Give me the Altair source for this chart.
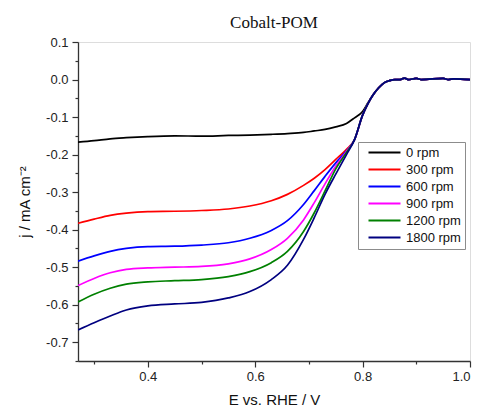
import altair as alt
import pandas as pd

# Potential (V vs RHE)
E = [0.27, 0.30, 0.33, 0.36, 0.40, 0.45, 0.50, 0.55, 0.59, 0.63, 0.66, 0.69, 0.71,
     0.73, 0.75, 0.77, 0.785, 0.80, 0.81, 0.82, 0.83, 0.84, 0.85, 0.86, 0.87,
     0.878, 0.885, 0.90, 0.91, 0.95, 0.96, 0.97, 1.0]

TAIL = [-0.040, -0.022, -0.009, -0.003, 0.0, 0.0, 0.004, 0.0, 0.003, 0.0, 0.003, 0.0, 0.002, 0.0]

J_0 = [-0.167, -0.163, -0.158, -0.155, -0.152, -0.150, -0.151, -0.149, -0.148, -0.146,
       -0.144, -0.141, -0.137, -0.133, -0.126, -0.117, -0.102, -0.085, -0.062] + TAIL
J_300 = [-0.383, -0.372, -0.362, -0.356, -0.352, -0.351, -0.349, -0.345, -0.337, -0.323,
         -0.306, -0.282, -0.263, -0.240, -0.213, -0.186, -0.160, -0.095, -0.064] + TAIL
J_600 = [-0.484, -0.470, -0.458, -0.450, -0.445, -0.444, -0.441, -0.435, -0.423, -0.402,
         -0.376, -0.333, -0.296, -0.258, -0.222, -0.190, -0.160, -0.095, -0.064] + TAIL
J_900 = [-0.549, -0.530, -0.515, -0.506, -0.502, -0.500, -0.498, -0.491, -0.478, -0.453,
         -0.423, -0.374, -0.328, -0.278, -0.231, -0.192, -0.160, -0.095, -0.064] + TAIL
J_1200 = [-0.593, -0.572, -0.556, -0.545, -0.539, -0.536, -0.533, -0.525, -0.512, -0.488,
          -0.458, -0.405, -0.355, -0.297, -0.238, -0.194, -0.160, -0.095, -0.064] + TAIL
J_1800 = [-0.667, -0.648, -0.630, -0.614, -0.603, -0.598, -0.594, -0.582, -0.565, -0.533,
          -0.495, -0.426, -0.368, -0.306, -0.252, -0.200, -0.160, -0.095, -0.064] + TAIL

LABELS = ["0 rpm", "300 rpm", "600 rpm", "900 rpm", "1200 rpm", "1800 rpm"]
COLORS = ["#000000", "#ff0000", "#0000ff", "#ff00ff", "#008000", "#000080"]
SERIES = [J_0, J_300, J_600, J_900, J_1200, J_1800]

X_TICKS = [0.3, 0.4, 0.5, 0.6, 0.7, 0.8, 0.9, 1.0]
Y_TICKS = [round(-0.75 + 0.05 * i, 2) for i in range(18)]

rows = []
for lab, ys in zip(LABELS, SERIES):
    for i, (x, y) in enumerate(zip(E, ys)):
        rows.append({"E": x, "j": y, "rpm": lab, "order": i})
df = pd.DataFrame(rows)

FONT = "Liberation Sans"
AX = "#333333"

x_axis = alt.Axis(
    values=X_TICKS,
    title="E vs. RHE / V",
    labelExpr="round(datum.value*10)%2==0 ? replace(format(datum.value,'.1f'),'\u2212','-') : ''",
    tickSize={"condition": {"test": "round(datum.value*10)%2==0", "value": 6}, "value": 3},
    grid=False, labelFont=FONT, labelFontSize=13, labelColor="#222",
    titleFont=FONT, titleFontSize=15, titleFontWeight="normal", titleColor="#111",
    titlePadding=9, labelPadding=3, domainColor=AX, tickColor=AX,
    domainWidth=1.3, tickWidth=1.2,
)
y_axis = alt.Axis(
    values=Y_TICKS,
    title="j / mA cm\u207b\u00b2",
    labelExpr="round(datum.value*20)%2==0 ? replace(format(datum.value,'.1f'),'\u2212','-') : ''",
    tickSize={"condition": {"test": "round(datum.value*20)%2==0", "value": 6}, "value": 3},
    grid=False, labelFont=FONT, labelFontSize=13, labelColor="#222",
    titleFont=FONT, titleFontSize=15, titleFontWeight="normal", titleColor="#111",
    titlePadding=13, labelPadding=4, domainColor=AX, tickColor=AX,
    domainWidth=1.3, tickWidth=1.2,
)

legend = alt.Legend(
    title=None, orient="none", legendX=280, legendY=100,
    symbolType="M0,0H6.4", symbolSize=100, symbolStrokeWidth=2,
    labelOffset=31, labelFont=FONT, labelFontSize=13, labelColor="#111",
    padding=4, strokeColor="#8c8c8c", fillColor="white", rowPadding=3,
)

chart = alt.Chart(df).mark_line(strokeWidth=1.7, interpolate="monotone", clip=True).encode(
    x=alt.X("E:Q", scale=alt.Scale(domain=[0.27, 1.0], nice=False, zero=False), axis=x_axis),
    y=alt.Y("j:Q", scale=alt.Scale(domain=[-0.75, 0.1], nice=False, zero=False), axis=y_axis),
    color=alt.Color("rpm:N", scale=alt.Scale(domain=LABELS, range=COLORS), legend=legend),
    order="order:Q",
).properties(
    width=392, height=319,
    autosize="none",
    padding={"left": 78, "top": 42, "right": 9, "bottom": 46},
    title=alt.TitleParams("Cobalt-POM", font="Liberation Serif", fontSize=17,
                          fontWeight="normal", color="#111", offset=4, anchor="middle"),
).configure_view(stroke=AX, strokeWidth=1.3).configure(background="white")

chart.save("out.html", embed_options={"renderer": "svg", "actions": False})
